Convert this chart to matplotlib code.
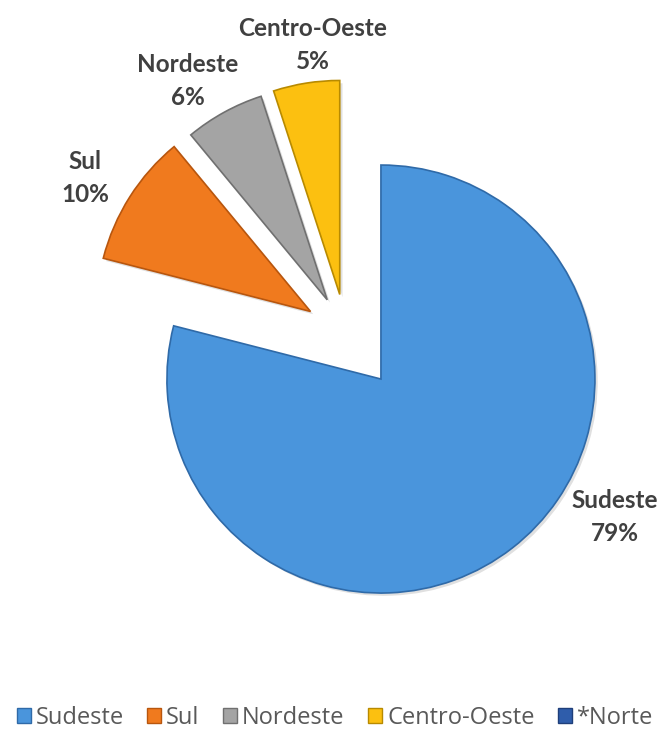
import matplotlib.pyplot as plt
import matplotlib.patheffects as pe

# data
regions = ['Sudeste', 'Sul', 'Nordeste', 'Centro-Oeste', '*Norte']
shares = [79, 10, 6, 5, 0]
colors = ['#4a95dc', '#f07a1e', '#a4a4a4', '#fcc010', '#2f5dab']
edges = ['#2f6aa8', '#b8560e', '#707070', '#b88a00', '#1f3f7a']
explode = [57, 42, 39, 40, 0]   # offset in pixels (data units here)
label_pos = [(615, 212), (85, 551), (188, 648), (313, 684), None]

fig = plt.figure(figsize=(6.7, 7.29), dpi=100)
ax = fig.add_axes([0, 0, 1, 1])

wedges, _ = ax.pie(shares, colors=colors, explode=explode, startangle=90,
                   counterclock=False, center=(346, 395), radius=214,
                   frame=True, wedgeprops=dict(linewidth=1.2))
for w, ec, s in zip(wedges, edges, shares):
    w.set_edgecolor(ec)
    w.set_path_effects([pe.SimplePatchShadow(offset=(2, -2), shadow_rgbFace='black', alpha=0.12),
                        pe.Normal()])
    if s == 0:
        w.set_linewidth(0)
        w.set_path_effects([])
ax.set_xlim(0, 670)
ax.set_ylim(0, 729)
ax.set_aspect('equal')
ax.axis('off')

# labels
for name, s, pos in zip(regions, shares, label_pos):
    if pos is None:
        continue
    ax.text(pos[0], pos[1], name + '\n' + str(s) + '%', ha='center', va='center',
            fontsize=17.5, fontweight='bold', family='Lato', color='#404040',
            linespacing=1.55)

# legend
handles = [plt.Rectangle((0, 0), 1, 1, facecolor=c, edgecolor=e) for c, e in zip(colors, edges)]
leg = fig.legend(handles, regions, loc='lower center', bbox_to_anchor=(0.5, -0.03),
                 ncol=5, frameon=False, handlelength=0.6, handleheight=0.6,
                 handletextpad=0.2, columnspacing=1.0,
                 prop={'family': 'Open Sans', 'size': 17})
for t in leg.get_texts():
    t.set_color('#595959')

plt.savefig('out.png', dpi=100)
